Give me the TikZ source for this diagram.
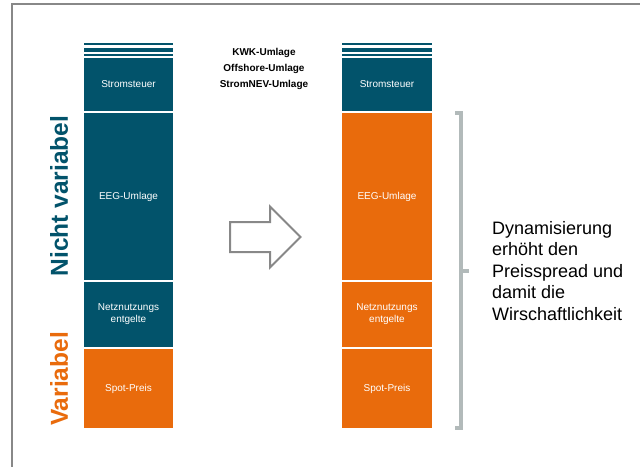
\documentclass[tikz,border=0pt]{standalone}
\usepackage{fontspec}
\setmainfont{Liberation Sans}
\definecolor{teal}{HTML}{02536B}
\definecolor{orng}{HTML}{E96B0C}
\definecolor{brk}{HTML}{B2BABA}
\definecolor{frm}{HTML}{888888}
\begin{document}
\begin{tikzpicture}[x=1pt,y=-1pt,
  blk/.style={inner sep=0pt, text=white, font=\fontsize{10}{12}\selectfont, align=center},
  side/.style={rotate=90, inner sep=0pt, font=\fontsize{24.5}{26}\selectfont\bfseries}]
\useasboundingbox (0,0) rectangle (640,466);
\fill[white] (0,0) rectangle (640,466);
% frame
\draw[frm, line width=1.5pt] (12,470) -- (12,4) -- (645,4);
% stripes
\foreach \xa/\xb in {84/173, 342/432}{
  \fill[teal] (\xa,42.7) rectangle (\xb,44.7);
  \fill[teal] (\xa,48) rectangle (\xb,51.7);
  \fill[teal] (\xa,53.7) rectangle (\xb,55.7);
}
% left bar
\fill[teal] (84,58) rectangle (173,111) node[blk, midway] (l1) {Stromsteuer};
\fill[teal] (84,113) rectangle (173,280) node[blk, midway] (l2) {EEG-Umlage};
\fill[teal] (84,282) rectangle (173,347) node[blk, midway] (l3) {Netznutzungs\\entgelte};
\fill[orng] (84,349) rectangle (173,428) node[blk, midway] (l4) {Spot-Preis};
% right bar
\fill[teal] (342,58) rectangle (432,111) node[blk, midway] (r1) {Stromsteuer};
\fill[orng] (342,113) rectangle (432,280) node[blk, midway] (r2) {EEG-Umlage};
\fill[orng] (342,282) rectangle (432,347) node[blk, midway] (r3) {Netznutzungs\\entgelte};
\fill[orng] (342,349) rectangle (432,428) node[blk, midway] (r4) {Spot-Preis};
% top texts
\node[font=\fontsize{10}{16}\selectfont\bfseries, align=center, inner sep=0pt] (top) at (264,69) {KWK-Umlage\\Offshore-Umlage\\StromNEV-Umlage};
% side labels
\node[side, text=teal] (nv) at (59,196) {Nicht variabel};
\node[side, text=orng] (va) at (59,379) {Variabel};
% arrow
\draw[frm, line width=2pt, fill=white, line join=miter]
  (230,222) -- (270,222) -- (270,206.5) -- (300.5,237) -- (270,267.5) -- (270,252) -- (230,252) -- cycle;
% bracket
\draw[brk, line width=3.5pt] (455,113) -- (461,113) -- (461,428) -- (455,428);
\draw[brk, line width=3.5pt] (461,271) -- (469,271);
% right text
\node[anchor=north west, inner sep=0pt, align=left, font=\fontsize{18}{21.5}\selectfont] (txt) at (492,221)
 {Dynamisierung\\erhöht den\\Preisspread und\\damit die\\Wirschaftlichkeit};
\end{tikzpicture}
\end{document}
